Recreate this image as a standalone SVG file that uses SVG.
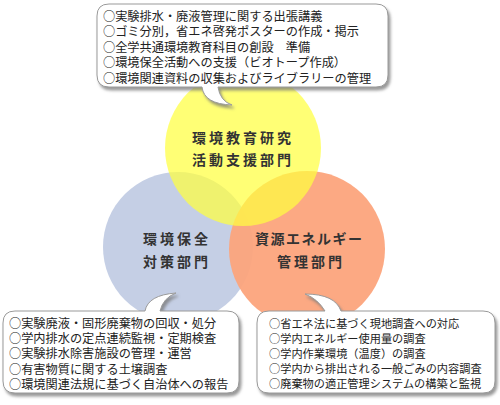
<svg xmlns="http://www.w3.org/2000/svg" width="500" height="405" viewBox="0 0 500 405">
<defs>
<filter id="sh" x="-10%" y="-20%" width="120%" height="150%">
<feDropShadow dx="2" dy="3" stdDeviation="1.6" flood-color="#777" flood-opacity="0.75"/>
</filter>
<style>
.box{fill:#fff;stroke:#9a9a9a;stroke-width:1;filter:url(#sh)}
.t{font-family:"Noto Sans CJK JP","Noto Sans CJK SC",sans-serif;fill:#222}
.h{font-family:"Noto Sans CJK JP","Noto Sans CJK SC",sans-serif;font-weight:700;font-size:14px;fill:#333;letter-spacing:3px}
</style>
</defs>
<rect width="500" height="405" fill="#fff"/>
<g id="node-blue"><circle cx="178" cy="247" r="75" fill="#C5CFE5"/></g>
<g id="node-orange"><circle cx="307" cy="249" r="78" fill="#FCA47C" opacity="0.95"/></g>
<g id="node-yellow"><circle cx="243" cy="148" r="78" fill="#FFFF40" opacity="0.72"/></g>
<g id="labels">
<text class="h" x="192" y="143">環境教育研究</text>
<text class="h" x="192" y="165">活動支援部門</text>
<text class="h" x="143" y="244">環境保全</text>
<text class="h" x="143" y="267">対策部門</text>
<text class="h" x="255" y="244" style="letter-spacing:1.5px">資源エネルギー</text>
<text class="h" x="277" y="267">管理部門</text>
</g>
<g id="callout-top">
<path class="box" d="M109,4 H376 Q388,4 388,16 V75 Q388,87 376,87 H218 Q220,101 232,105 Q204,104 202,87 H109 Q97,87 97,75 V16 Q97,4 109,4 Z"/>
<g class="t" font-size="12.2">
<text x="103" y="20.7">○実験排水・廃液管理に関する出張講義</text>
<text x="103" y="36.2">○ゴミ分別，省エネ啓発ポスターの作成・掲示</text>
<text x="103" y="51.7">○全学共通環境教育科目の創設　準備</text>
<text x="103" y="67.2">○環境保全活動への支援（ビオトープ作成）</text>
<text x="103" y="82.7">○環境関連資料の収集およびライブラリーの管理</text>
</g>
</g>
<g id="callout-left">
<path class="box" d="M15,311 H145 Q148,295 176,293 Q163,298 160,311 H227 Q239,311 239,323 V381 Q239,393 227,393 H15 Q3,393 3,381 V323 Q3,311 15,311 Z"/>
<g class="t" font-size="12.2">
<text x="9" y="327.6">○実験廃液・固形廃棄物の回収・処分</text>
<text x="9" y="343">○学内排水の定点連続監視・定期検査</text>
<text x="9" y="358.4">○実験排水除害施設の管理・運営</text>
<text x="9" y="373.8">○有害物質に関する土壌調査</text>
<text x="9" y="389.2">○環境関連法規に基づく自治体への報告</text>
</g>
</g>
<g id="callout-right">
<path class="box" d="M269,311 H325 Q318,299 305,294 Q335,294 341,311 H483 Q495,311 495,323 V381 Q495,393 483,393 H269 Q257,393 257,381 V323 Q257,311 269,311 Z"/>
<g class="t" font-size="11.2">
<text x="269" y="327.5">○省エネ法に基づく現地調査への対応</text>
<text x="269" y="342.7">○学内エネルギー使用量の調査</text>
<text x="269" y="357.9">○学内作業環境（温度）の調査</text>
<text x="269" y="373.1">○学内から排出される一般ごみの内容調査</text>
<text x="269" y="388.3">○廃棄物の適正管理システムの構築と監視</text>
</g>
</g>
</svg>
